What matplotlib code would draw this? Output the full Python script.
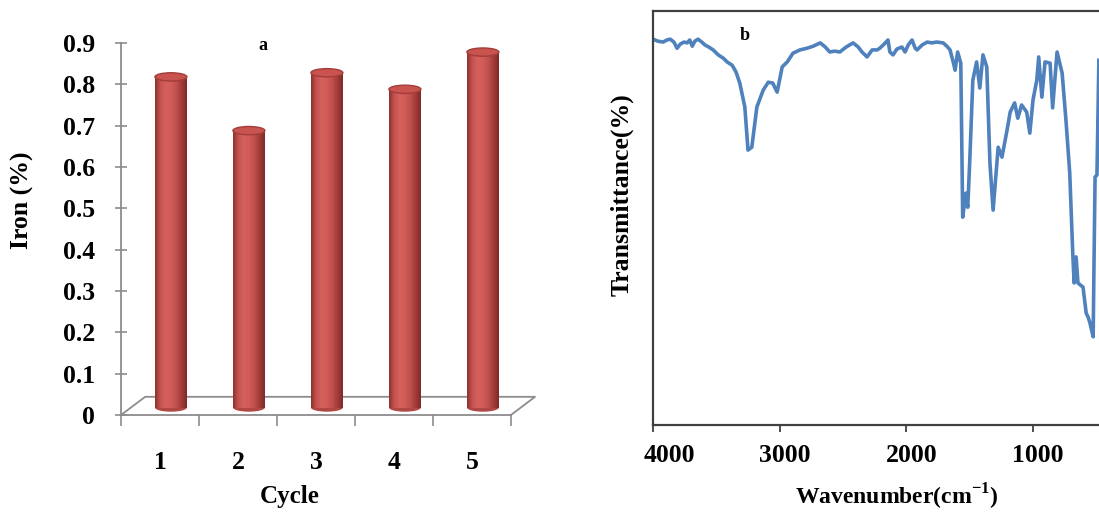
import matplotlib
matplotlib.use("Agg")
import matplotlib.pyplot as plt
import numpy as np
from matplotlib.patches import Rectangle, Ellipse
from matplotlib.colors import LinearSegmentedColormap
from matplotlib.transforms import ScaledTranslation

plt.rcParams["mathtext.fontset"] = "custom"
plt.rcParams["mathtext.rm"] = "Liberation Serif:bold"
plt.rcParams["mathtext.bf"] = "Liberation Serif:bold"

# ---------------- data ----------------
cycles = [1, 2, 3, 4, 5]
cycle_labels = ["1", "2", "3", "4", "5"]
iron_pct = [0.80, 0.67, 0.81, 0.77, 0.86]
iron_ticks = [0, 0.1, 0.2, 0.3, 0.4, 0.5, 0.6, 0.7, 0.8, 0.9]
iron_tick_labels = ["0", "0.1", "0.2", "0.3", "0.4", "0.5", "0.6", "0.7", "0.8", "0.9"]

wavenumber = [4000, 3960, 3920, 3890, 3865, 3835, 3810, 3785, 3755, 3730, 3710, 3690, 3670,
              3645, 3615, 3590, 3560, 3525, 3485, 3445, 3415, 3375, 3345, 3315, 3275, 3250,
              3220, 3180, 3130, 3090, 3055, 3020, 2980, 2940, 2895, 2840, 2785, 2735, 2680,
              2640, 2605, 2565, 2525, 2475, 2420, 2380, 2350, 2310, 2270, 2230, 2210, 2175,
              2145, 2130, 2105, 2075, 2035, 2010, 1985, 1955, 1930, 1915, 1875, 1835, 1800,
              1760, 1710, 1680, 1655, 1630, 1615, 1595, 1570, 1555, 1530, 1515, 1500, 1475,
              1445, 1420, 1395, 1365, 1340, 1315, 1285, 1275, 1245, 1205, 1180, 1145, 1120,
              1090, 1050, 1025, 1000, 970, 955, 930, 905, 865, 845, 810, 770, 740, 710, 685,
              675, 660, 645, 605, 580, 565, 550, 525, 520, 510, 495, 480]
transmittance = [93.2, 92.7, 92.5, 93.0, 93.2, 92.5, 91.0, 92.0, 92.5, 92.3, 93.0, 91.5, 92.7,
                 93.2, 92.5, 91.8, 91.3, 90.6, 89.4, 88.6, 87.7, 86.9, 85.3, 82.6, 76.8, 66.4,
                 67.1, 76.8, 80.9, 82.8, 82.6, 80.4, 86.5, 87.7, 89.8, 90.6, 91.0, 91.5, 92.3,
                 91.3, 90.1, 90.3, 90.1, 91.3, 92.3, 91.3, 90.1, 88.9, 90.6, 90.6, 91.0, 92.0,
                 93.0, 90.1, 89.4, 90.8, 91.3, 90.1, 91.8, 93.0, 91.0, 90.6, 91.8, 92.5, 92.3,
                 92.5, 92.3, 91.5, 90.6, 87.7, 85.7, 90.1, 87.4, 50.2, 56.0, 52.6, 63.3, 83.3,
                 87.7, 81.4, 89.4, 86.5, 63.3, 51.9, 63.3, 67.1, 64.7, 71.2, 75.6, 77.8, 74.1,
                 77.3, 75.6, 70.5, 78.5, 83.3, 88.9, 79.2, 87.7, 87.4, 76.6, 90.1, 85.0, 73.7,
                 60.9, 40.6, 34.3, 40.6, 34.3, 33.3, 27.0, 26.1, 24.6, 21.3, 35.0, 59.9, 60.4, 88.1]
wn_ticks = [4000, 3000, 2000, 1000]

# ---------------- figure ----------------
W, H = 1099, 512
fig = plt.figure(figsize=(W / 100, H / 100), dpi=100)
FONT = "Liberation Serif"
GRAY = "#8C8C8C"

def fx(px):
    return px / W

def fy(py):
    return 1 - py / H

# ---------- panel a : 3D-like cylinder bars ----------
axL = fig.add_axes([fx(121), fy(415), fx(535) - fx(121), fy(43) - fy(415)])
xmin, xmax = 0.5, 5.808
for s in ["top", "right"]:
    axL.spines[s].set_visible(False)
axL.spines["left"].set_color(GRAY)
axL.spines["left"].set_linewidth(1.3)
axL.spines["bottom"].set_color(GRAY)
axL.spines["bottom"].set_linewidth(1.3)
axL.spines["bottom"].set_bounds(0.5, 5.5)

# floor (depth) outline
ddx, ddy = 0.31, 0.044
axL.plot([0.5, 0.5 + ddx, xmax, 5.5], [0, ddy, ddy, 0], color=GRAY, lw=1.3,
         clip_on=False, zorder=1)

cmap = LinearSegmentedColormap.from_list(
    "cyl", ["#8E302D", "#C45450", "#D5605C", "#D05B57", "#C0504D", "#A23C39", "#7E2A27"])
grad = np.linspace(0, 1, 256).reshape(1, -1)
bw = 0.41
xoff = 0.14
base = 0.018
eh = 0.02
for c, v in zip(cycles, iron_pct):
    xc = c + xoff
    bot = Ellipse((xc, base), bw, eh, facecolor="#B04744", edgecolor="none", zorder=2)
    axL.add_patch(bot)
    rect = Rectangle((xc - bw / 2, base), bw, v, facecolor="none", edgecolor="none", zorder=3)
    axL.add_patch(rect)
    im = axL.imshow(grad, cmap=cmap, extent=[xc - bw / 2, xc + bw / 2, base, base + v],
                    aspect="auto", zorder=3, interpolation="bilinear")
    im.set_clip_path(rect)
    top = Ellipse((xc, base + v), bw, eh, facecolor="#C9534F", edgecolor="#A23D39",
                  lw=1.0, zorder=4)
    axL.add_patch(top)
axL.set_xlim(xmin, xmax)
axL.set_ylim(0, 0.9)

axL.set_yticks(iron_ticks)
axL.set_yticklabels(iron_tick_labels, fontfamily=FONT, fontweight="bold", fontsize=18.5)
axL.tick_params(axis="y", direction="inout", length=9, width=1.2, color=GRAY, pad=14)
axL.set_xticks(cycles)
axL.set_xticklabels(cycle_labels, fontfamily=FONT, fontweight="bold", fontsize=18.5)
axL.set_xticks([0.5, 1.5, 2.5, 3.5, 4.5, 5.5], minor=True)
axL.tick_params(axis="x", which="major", length=0, pad=26)
axL.tick_params(axis="x", which="minor", direction="out", length=8, width=1.2, color=GRAY)
axL.set_facecolor("none")

fig.text(fx(22), fy(200), "Iron (%)", rotation=90, ha="center", va="center",
         fontfamily=FONT, fontweight="bold", fontsize=18.5)
fig.text(fx(290), fy(497), "Cycle", ha="center", va="center",
         fontfamily=FONT, fontweight="bold", fontsize=18)
fig.text(fx(263), fy(45), "a", ha="center", va="center",
         fontfamily=FONT, fontweight="bold", fontsize=13)

# ---------- panel b : FTIR spectrum ----------
axR = fig.add_axes([fx(653), fy(425), fx(1109) - fx(653), fy(11) - fy(425)])
axR.plot(wavenumber, transmittance, color="#4F81BD", lw=2.6, solid_joinstyle="round")
axR.set_xlim(4000, 400)
axR.set_ylim(0, 100)
axR.set_yticks([])
axR.set_xticks(wn_ticks)
axR.set_xticklabels([str(t) for t in wn_ticks], fontfamily=FONT, fontweight="bold",
                    fontsize=18.5)
axR.tick_params(axis="x", direction="out", length=5, width=1.3, color="#404040", pad=9)
shifts_px = [16, 5, 5, 5]
for tick, sh in zip(axR.xaxis.get_major_ticks(), shifts_px):
    lab = tick.label1
    lab.set_transform(lab.get_transform() + ScaledTranslation(sh / 100, 0, fig.dpi_scale_trans))
for s in axR.spines.values():
    s.set_color("#404040")
    s.set_linewidth(1.6)

fig.text(fx(622), fy(195), "Transmittance(%)", rotation=90, ha="center", va="center",
         fontfamily=FONT, fontweight="bold", fontsize=18.5)
fig.text(fx(897), fy(497), "Wavenumber(cm$^{-1}$)", ha="center", va="center",
         fontfamily=FONT, fontweight="bold", fontsize=17)
fig.text(fx(745), fy(35), "b", ha="center", va="center",
         fontfamily=FONT, fontweight="bold", fontsize=13)

fig.savefig("out.png", dpi=100)
